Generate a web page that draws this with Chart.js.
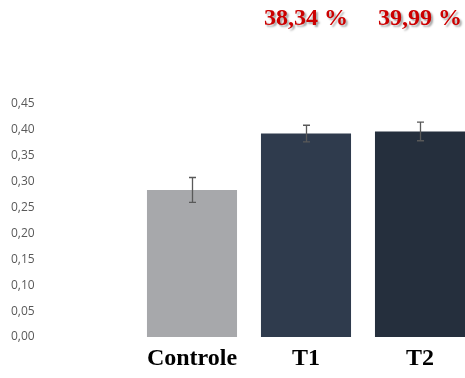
<!DOCTYPE html>
<html>
<head>
<meta charset="utf-8">
<script src="https://cdn.jsdelivr.net/npm/chart.js@4.4.1/dist/chart.umd.min.js"></script>
<style>
  html, body { margin: 0; padding: 0; overflow: hidden; background: #fff; }
  #wrap { position: relative; width: 477px; height: 378px; }
</style>
</head>
<body>
<div id="wrap"><canvas id="chart"></canvas></div>
<script>
const categories = ["Controle", "T1", "T2"]
const means = [0.284, 0.393, 0.397]
const errors = [0.024, 0.016, 0.018]
const gains = ["", "38,34 %", "39,99 %"]
const barColors = ["#a7a8ab", "#2f3b4d", "#252f3d"]

// error bars drawn on top of each bar
const errorBars = {
  id: "errorBars",
  afterDatasetsDraw(chart) {
    const ctx = chart.ctx
    const y = chart.scales.y
    const meta = chart.getDatasetMeta(0)
    ctx.save()
    ctx.strokeStyle = "#595959"
    ctx.lineWidth = 1.3
    meta.data.forEach((bar, i) => {
      const top = y.getPixelForValue(means[i] + errors[i])
      const bottom = y.getPixelForValue(means[i] - errors[i])
      const x = Math.round(bar.x) + 0.5
      ctx.beginPath()
      ctx.moveTo(x, top); ctx.lineTo(x, bottom)
      ctx.moveTo(x - 3.5, top); ctx.lineTo(x + 3.5, top)
      ctx.moveTo(x - 3.5, bottom); ctx.lineTo(x + 3.5, bottom)
      ctx.stroke()
    })
    ctx.restore()
  }
}

// red percentage labels above the chart
const gainLabels = {
  id: "gainLabels",
  afterDraw(chart) {
    const ctx = chart.ctx
    const x = chart.scales.x
    ctx.save()
    ctx.font = "bold 24px 'Liberation Serif'"
    ctx.fillStyle = "#cc0000"
    ctx.textAlign = "center"
    ctx.textBaseline = "middle"
    ctx.shadowColor = "rgba(0,0,0,0.35)"
    ctx.shadowOffsetX = 2
    ctx.shadowOffsetY = 2
    ctx.shadowBlur = 2
    gains.forEach((g, i) => {
      if (g) ctx.fillText(g, x.getPixelForValue(i), 19)
    })
    ctx.restore()
  }
}

new Chart(document.getElementById("chart"), {
  type: "bar",
  data: {
    labels: categories,
    datasets: [{
      data: means,
      backgroundColor: barColors,
      borderWidth: 0,
      categoryPercentage: 1,
      barPercentage: 0.79
    }]
  },
  options: {
    responsive: true,
    maintainAspectRatio: false,
    animation: false,
    layout: { padding: { top: 104, left: 11, right: 0, bottom: 0 } },
    plugins: {
      legend: { display: false },
      tooltip: { enabled: false }
    },
    scales: {
      x: {
        grid: { display: false },
        border: { display: false },
        afterFit: (axis) => { axis.height = 41 },
        ticks: {
          color: "#000",
          padding: -1,
          font: { family: "'Liberation Serif'", size: 24, weight: "bold" }
        }
      },
      y: {
        min: 0,
        max: 0.45,
        grid: { display: false },
        border: { display: false },
        afterFit: (axis) => { axis.width = 124 },
        ticks: {
          stepSize: 0.05,
          crossAlign: "far",
          color: "#595959",
          font: { family: "'Open Sans'", size: 12 },
          callback: (v) => v.toFixed(2).replace(".", ",")
        }
      }
    }
  },
  plugins: [errorBars, gainLabels]
})
</script>
</body>
</html>
